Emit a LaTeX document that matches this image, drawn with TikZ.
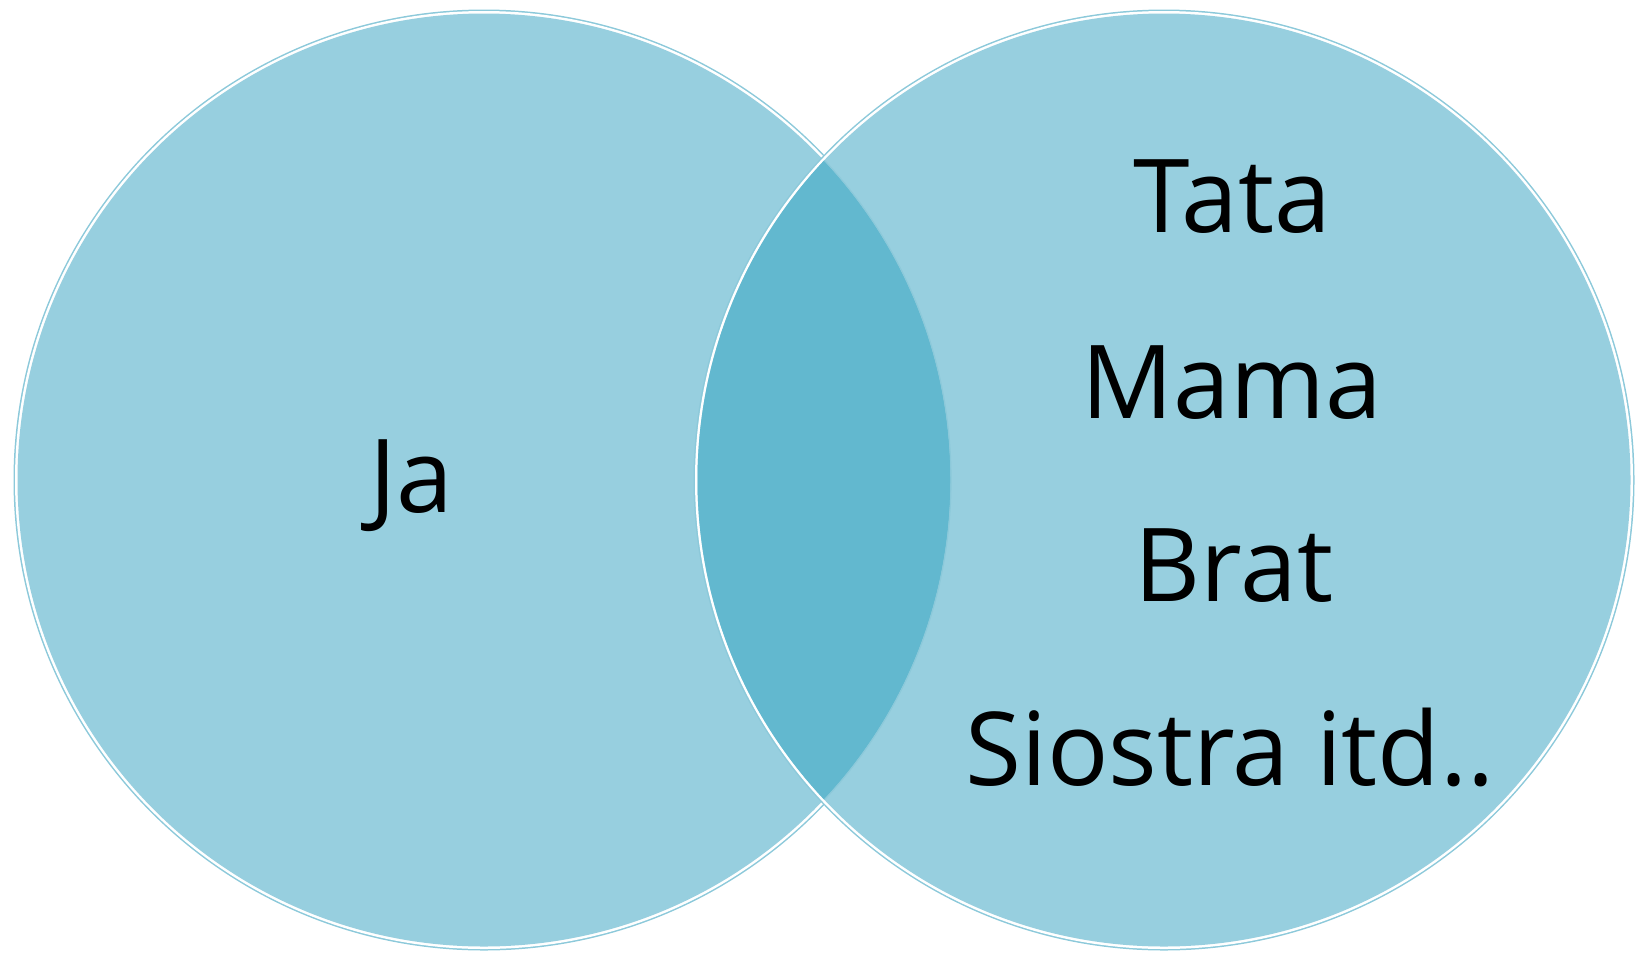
\documentclass[tikz,border=0pt]{standalone}
\usepackage{fontspec}
\setmainfont{Open Sans}
\definecolor{vfill}{HTML}{97CFDF}
\definecolor{vline}{HTML}{8CC9DA}
\definecolor{vlens}{HTML}{62B8CF}
\begin{document}
\begin{tikzpicture}[x=1pt,y=-1pt,
  lab/.style={font=\fontsize{102}{110}\selectfont, text=black, inner sep=0pt, anchor=base}]
\useasboundingbox (0,0) rectangle (1640,954);
\coordinate (L) at (484,480);
\coordinate (R) at (1164,480);
% left circle
\fill[vline] (L) circle (470.5);
\fill[white] (L) circle (469);
\fill[vfill] (L) circle (466.5);
% right circle
\fill[vline] (R) circle (470.5);
\fill[white] (R) circle (469);
\fill[vfill] (R) circle (466.5);
% lens
\begin{scope}
\clip (L) circle (466.5);
\fill[vlens] (R) circle (466.5);
\end{scope}
\begin{scope}
\clip (R) circle (466.5);
\draw[vline, line width=1.2pt] (L) circle (467);
\end{scope}
% labels
\node[lab] (ja) at (411,512) {Ja};
\node[lab] (tata) at (1232,232) {Tata};
\node[lab] (mama) at (1232,418) {Mama};
\node[lab] (brat) at (1234,601) {Brat};
\node[lab] (siostra) at (1230,785) {Siostra itd..};
\end{tikzpicture}
\end{document}
